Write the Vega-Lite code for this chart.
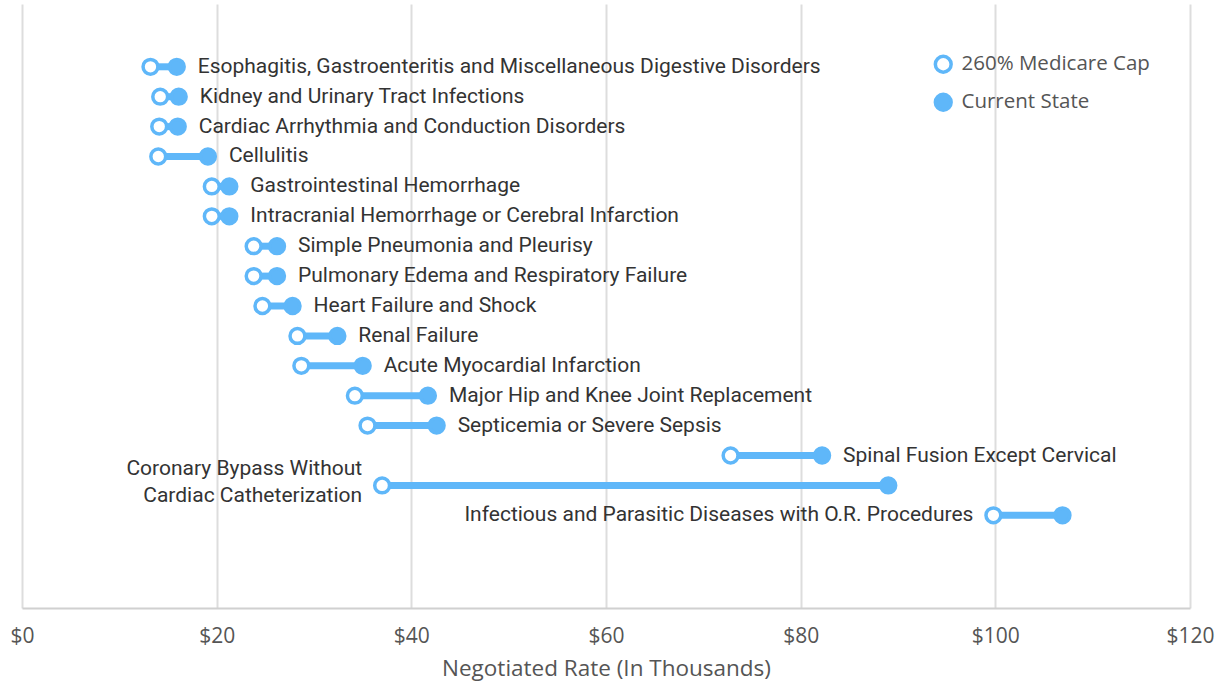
{
  "$schema": "https://vega.github.io/schema/vega-lite/v6.json",
  "width": 1168,
  "height": 604,
  "autosize": {"type": "none"},
  "padding": {"left": 22, "top": 4, "right": 27, "bottom": 74},
  "background": "white",
  "config": {
    "view": {"stroke": null},
    "font": "Open Sans"
  },
  "data": {
    "values": [
      {"category": "Esophagitis, Gastroenteritis and Miscellaneous Digestive Disorders", "label": "Esophagitis, Gastroenteritis and Miscellaneous Digestive Disorders", "cap": 13.2, "current": 15.9},
      {"category": "Kidney and Urinary Tract Infections", "label": "Kidney and Urinary Tract Infections", "cap": 14.2, "current": 16.1},
      {"category": "Cardiac Arrhythmia and Conduction Disorders", "label": "Cardiac Arrhythmia and Conduction Disorders", "cap": 14.1, "current": 16.0},
      {"category": "Cellulitis", "label": "Cellulitis", "cap": 14.0, "current": 19.1},
      {"category": "Gastrointestinal Hemorrhage", "label": "Gastrointestinal Hemorrhage", "cap": 19.5, "current": 21.3},
      {"category": "Intracranial Hemorrhage or Cerebral Infarction", "label": "Intracranial Hemorrhage or Cerebral Infarction", "cap": 19.5, "current": 21.3},
      {"category": "Simple Pneumonia and Pleurisy", "label": "Simple Pneumonia and Pleurisy", "cap": 23.8, "current": 26.2},
      {"category": "Pulmonary Edema and Respiratory Failure", "label": "Pulmonary Edema and Respiratory Failure", "cap": 23.8, "current": 26.2},
      {"category": "Heart Failure and Shock", "label": "Heart Failure and Shock", "cap": 24.7, "current": 27.8},
      {"category": "Renal Failure", "label": "Renal Failure", "cap": 28.3, "current": 32.4},
      {"category": "Acute Myocardial Infarction", "label": "Acute Myocardial Infarction", "cap": 28.7, "current": 35.0},
      {"category": "Major Hip and Knee Joint Replacement", "label": "Major Hip and Knee Joint Replacement", "cap": 34.2, "current": 41.7},
      {"category": "Septicemia or Severe Sepsis", "label": "Septicemia or Severe Sepsis", "cap": 35.5, "current": 42.6},
      {"category": "Spinal Fusion Except Cervical", "label": "Spinal Fusion Except Cervical", "cap": 72.8, "current": 82.2},
      {"category": "Coronary Bypass Without Cardiac Catheterization", "label": "Coronary Bypass Without\nCardiac Catheterization", "cap": 37.0, "current": 89.0},
      {"category": "Infectious and Parasitic Diseases with O.R. Procedures", "label": "Infectious and Parasitic Diseases with O.R. Procedures", "cap": 99.8, "current": 106.9}
    ]
  },
  "encoding": {
    "y": {
      "field": "category",
      "type": "nominal",
      "sort": null,
      "axis": null,
      "scale": {
        "type": "point",
        "padding": 0.1,
        "domain": [
          " ", "  ",
          "Esophagitis, Gastroenteritis and Miscellaneous Digestive Disorders",
          "Kidney and Urinary Tract Infections",
          "Cardiac Arrhythmia and Conduction Disorders",
          "Cellulitis",
          "Gastrointestinal Hemorrhage",
          "Intracranial Hemorrhage or Cerebral Infarction",
          "Simple Pneumonia and Pleurisy",
          "Pulmonary Edema and Respiratory Failure",
          "Heart Failure and Shock",
          "Renal Failure",
          "Acute Myocardial Infarction",
          "Major Hip and Knee Joint Replacement",
          "Septicemia or Severe Sepsis",
          "Spinal Fusion Except Cervical",
          "Coronary Bypass Without Cardiac Catheterization",
          "Infectious and Parasitic Diseases with O.R. Procedures",
          "   ", "    ", "     "
        ]
      }
    }
  },
  "layer": [
    {
      "mark": {"type": "rule", "color": "#5fb7f9", "strokeWidth": 7},
      "encoding": {
        "x": {
          "field": "cap",
          "type": "quantitative",
          "scale": {"domain": [0, 120], "nice": false, "zero": true},
          "axis": {
            "values": [0, 20, 40, 60, 80, 100, 120],
            "labelExpr": "'$' + datum.value",
            "labelFlush": false,
            "title": "Negotiated Rate (In Thousands)",
            "grid": true,
            "gridColor": "#dddddd",
            "gridWidth": 2,
            "domainColor": "#d0d0d0",
            "domainWidth": 2,
            "ticks": false,
            "labelFontSize": 21,
            "labelColor": "#555555",
            "labelPadding": 17,
            "labelFont": "Open Sans",
            "titleFont": "Open Sans",
            "titleFontSize": 22.5,
            "titleFontWeight": "normal",
            "titleColor": "#555555",
            "titlePadding": 11
          }
        },
        "x2": {"field": "current"}
      }
    },
    {
      "transform": [
        {"fold": ["cap", "current"], "as": ["key", "value"]},
        {"calculate": "datum.key === 'cap' ? '260% Medicare Cap' : 'Current State'", "as": "series"}
      ],
      "mark": {"type": "circle", "stroke": "#5fb7f9", "strokeWidth": 3.5, "size": 220, "opacity": 1},
      "encoding": {
        "x": {"field": "value", "type": "quantitative"},
        "fill": {
          "field": "series",
          "type": "nominal",
          "scale": {"domain": ["260% Medicare Cap", "Current State"], "range": ["white", "#5fb7f9"]},
          "legend": {
            "title": null,
            "orient": "none",
            "legendX": 911,
            "legendY": 50,
            "labelFontSize": 20.5,
            "labelColor": "#555555",
            "labelFont": "Open Sans",
            "labelLimit": 400,
            "symbolType": "circle",
            "symbolSize": 250,
            "symbolStrokeColor": "#5fb7f9",
            "symbolStrokeWidth": 3.5,
            "symbolOpacity": 1,
            "rowPadding": 7,
            "labelOffset": 8
          }
        }
      }
    },
    {
      "transform": [
        {"filter": {"not": {"field": "category", "oneOf": ["Coronary Bypass Without Cardiac Catheterization", "Infectious and Parasitic Diseases with O.R. Procedures"]}}}
      ],
      "mark": {"type": "text", "align": "left", "baseline": "middle", "dx": 21, "font": "Roboto", "fontSize": 21, "color": "#333333"},
      "encoding": {
        "x": {"field": "current", "type": "quantitative"},
        "text": {"field": "label"}
      }
    },
    {
      "transform": [
        {"filter": {"field": "category", "equal": "Coronary Bypass Without Cardiac Catheterization"}}
      ],
      "mark": {"type": "text", "align": "right", "baseline": "middle", "dx": -20, "dy": -16, "font": "Roboto", "fontSize": 21, "color": "#333333", "lineBreak": "\n", "lineHeight": 27},
      "encoding": {
        "x": {"field": "cap", "type": "quantitative"},
        "text": {"field": "label"}
      }
    },
    {
      "transform": [
        {"filter": {"field": "category", "equal": "Infectious and Parasitic Diseases with O.R. Procedures"}}
      ],
      "mark": {"type": "text", "align": "right", "baseline": "middle", "dx": -20, "font": "Roboto", "fontSize": 21, "color": "#333333"},
      "encoding": {
        "x": {"field": "cap", "type": "quantitative"},
        "text": {"field": "label"}
      }
    }
  ]
}
